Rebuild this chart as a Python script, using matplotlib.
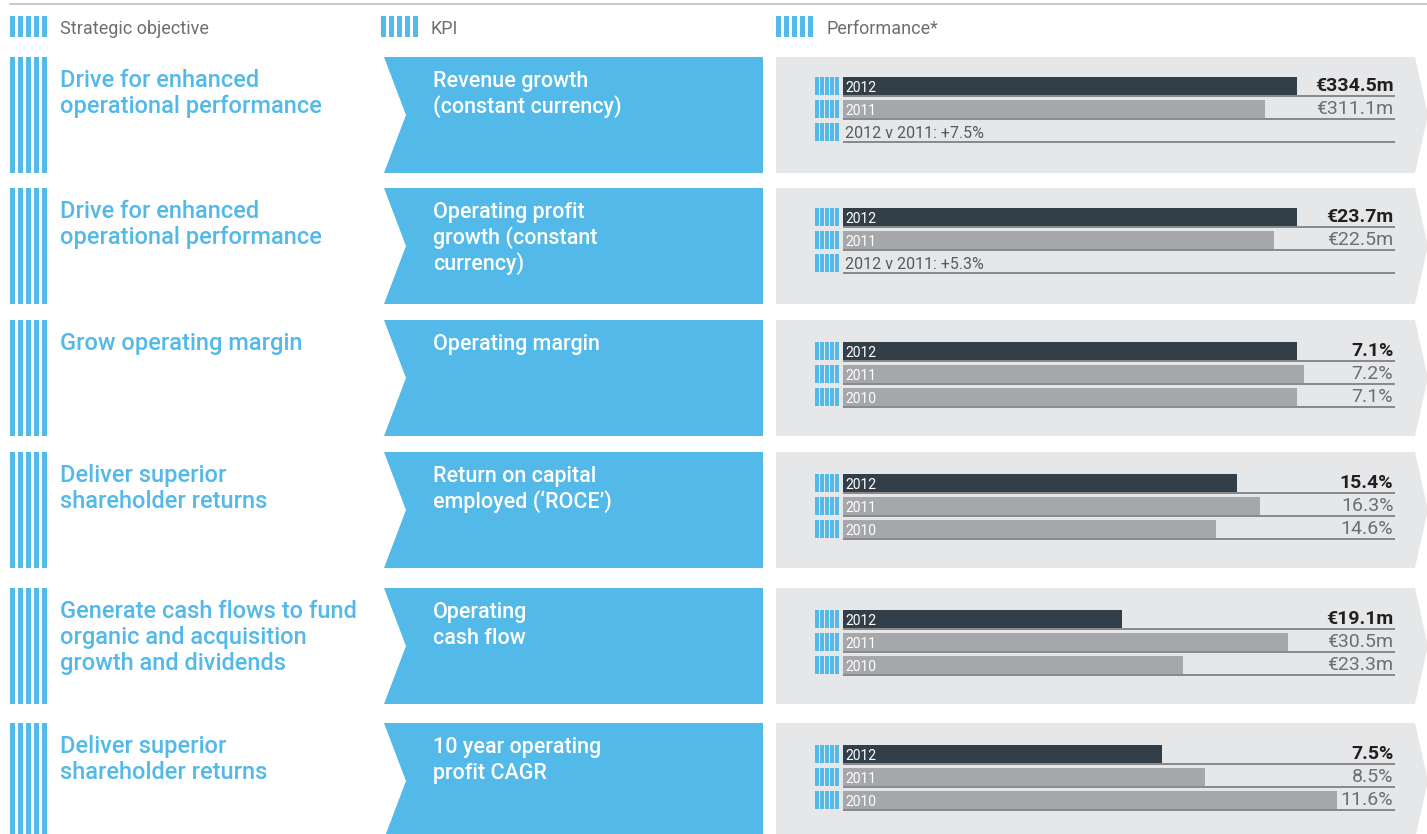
import numpy as np
import matplotlib.pyplot as plt
from matplotlib.patches import Polygon, Rectangle
from matplotlib.transforms import blended_transform_factory

plt.rcParams['font.family'] = ['Roboto', 'DejaVu Sans']

# data
headers = ['Strategic objective', 'KPI', 'Performance*']
objectives = ['Drive for enhanced\noperational performance',
              'Drive for enhanced\noperational performance',
              'Grow operating margin',
              'Deliver superior\nshareholder returns',
              'Generate cash flows to fund\norganic and acquisition\ngrowth and dividends',
              'Deliver superior\nshareholder returns']
kpis = ['Revenue growth\n(constant currency)',
        'Operating profit\ngrowth (constant\ncurrency)',
        'Operating margin',
        'Return on capital\nemployed (\u2018ROCE\u2019)',
        'Operating\ncash flow',
        '10 year operating\nprofit CAGR']
years = ['2012', '2011', '2010']
val_2012 = [334.5, 23.7, 7.1, 15.4, 19.1, 7.5]
val_2011 = [311.1, 22.5, 7.2, 16.3, 30.5, 8.5]
val_2010 = [None, None, 7.1, 14.6, 23.3, 11.6]
units = ['eur', 'eur', 'pct', 'pct', 'eur', 'pct']
notes = ['2012 v 2011: +7.5%', '2012 v 2011: +5.3%', None, None, None, None]
scale_max = [406.7, 28.8, 8.63, 21.6, 37.8, 12.96]

# colours
blue = '#52b9e9'
grey_box = '#e6e7e8'
dark_bar = '#333f48'
grey_bar = '#a6a7ab'
txt_grey = '#6d6e71'

W, H = 1427, 834
fig = plt.figure(figsize=(W / 100, H / 100), dpi=100)
bg = fig.add_axes([0, 0, 1, 1])
bg.set_xlim(0, W)
bg.set_ylim(H, 0)
bg.axis('off')


def stripes(ax, x0, y0, h, n=5, w=5, step=8):
    for k in range(n):
        ax.add_patch(Rectangle((x0 + k * step, y0), w, h, color=blue, lw=0))


# header
bg.plot([10, W], [4, 4], color='#bcbdc0', lw=1.2)
for xs, xt, lab in zip([10, 381, 776], [60, 430, 826], headers):
    stripes(bg, xs, 16, 21)
    bg.text(xt, 29, lab, color=txt_grey, fontsize=13, va='center')

row_tops = [57, 188, 320, 452, 588, 723]
row_h = 116

for i, top in enumerate(row_tops):
    bot = top + row_h
    # objective
    stripes(bg, 10, top, row_h)
    for j, line in enumerate(objectives[i].split('\n')):
        bg.text(60, top + 30 + j * 26, line, color=blue, fontsize=17,
                fontweight='medium', va='baseline')
    # KPI chevron
    bg.add_patch(Polygon([(384, top), (763, top), (763, bot), (384, bot),
                          (406, top + row_h / 2)], closed=True, color=blue, lw=0))
    for j, line in enumerate(kpis[i].split('\n')):
        bg.text(433, top + 30 + j * 26, line, color='white', fontsize=15.5,
                fontweight='medium', va='baseline')
    # performance box
    bg.add_patch(Polygon([(776, top), (1415, top), (1428, top + row_h / 2),
                          (1415, bot), (776, bot)], closed=True, color=grey_box, lw=0))

    vals = [val_2012[i], val_2011[i], val_2010[i]]
    off = 20 if notes[i] else 22
    for s in range(3):
        stripes(bg, 815, top + off + s * 23, 18, n=5, w=3.6, step=5)

    # bar axes for this row
    ax = fig.add_axes([843 / W, 1 - (top + off - 2.5 + 69) / H, 552 / W, 69 / H])
    ax.set_xlim(0, scale_max[i])
    ax.set_ylim(2.5, -0.5)
    ax.axis('off')
    tr = blended_transform_factory(ax.transAxes, ax.transData)
    for s in range(3):
        ax.plot([0, 1], [s + 0.45, s + 0.45], transform=tr, color='#808184', lw=1.3,
                solid_capstyle='butt')
        v = vals[s]
        if v is None:
            if notes[i]:
                ax.text(0.004, s + 0.05, notes[i], transform=tr, color='#58595b',
                        fontsize=11.5, va='center')
            continue
        ax.barh(s, v, height=0.78, left=0, color=dark_bar if s == 0 else grey_bar)
        ax.text(0.004, s + 0.1, years[s], transform=tr, color='white',
                fontsize=10, va='center')
        lab = f'\u20ac{v:.1f}m' if units[i] == 'eur' else f'{v:.1f}%'
        ax.text(0.997, s + 0.02, lab, transform=tr, ha='right', va='center',
                fontsize=14, color='#231f20' if s == 0 else '#6d6e71',
                fontweight='bold' if s == 0 else 'normal')

fig.savefig('out.png', dpi=100)
